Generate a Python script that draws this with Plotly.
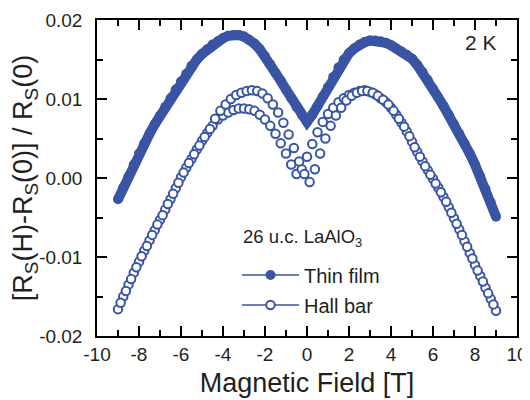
import plotly.graph_objects as go

BLUE = '#3A54A5'
INK = '#231F20'
FONT = 'Liberation Sans, Arial, Helvetica, sans-serif'

# Thin film (filled circles)
film_field = [-9.00, -8.75, -8.50, -8.25, -8.00, -7.75, -7.50, -7.25, -7.00, -6.75,
              -6.50, -6.25, -6.00, -5.75, -5.50, -5.25, -5.00, -4.75, -4.50, -4.25,
              -4.00, -3.75, -3.50, -3.25, -3.00, -2.75, -2.50, -2.25, -2.00, -1.75,
              -1.50, -1.25, -1.00, -0.75, -0.50, -0.25, 0.00, 0.25, 0.50, 0.75,
              1.00, 1.25, 1.50, 1.75, 2.00, 2.25, 2.50, 2.75, 3.00, 3.25,
              3.50, 3.75, 4.00, 4.25, 4.50, 4.75, 5.00, 5.25, 5.50, 5.75,
              6.00, 6.25, 6.50, 6.75, 7.00, 7.25, 7.50, 7.75, 8.00, 8.25,
              8.50, 8.75, 9.00]
film_ratio = [-0.0027, -0.0012, 0.0002, 0.0017, 0.0031, 0.0044, 0.0056, 0.0068, 0.0079, 0.0090,
              0.0101, 0.0112, 0.0122, 0.0132, 0.0142, 0.0150, 0.0157, 0.0163, 0.0169, 0.0173,
              0.0177, 0.0180, 0.0181, 0.0181, 0.0179, 0.0175, 0.0170, 0.0163, 0.0154, 0.0144,
              0.0133, 0.0123, 0.0112, 0.0101, 0.0090, 0.0080, 0.0071, 0.0080, 0.0091, 0.0103,
              0.0115, 0.0128, 0.0140, 0.0150, 0.0158, 0.0164, 0.0169, 0.0172, 0.0174, 0.0174,
              0.0173, 0.0171, 0.0168, 0.0164, 0.0160, 0.0156, 0.0151, 0.0143, 0.0134, 0.0124,
              0.0113, 0.0102, 0.0091, 0.0080, 0.0068, 0.0056, 0.0044, 0.0031, 0.0017, 0.0002,
              -0.0014, -0.0031, -0.0049]

# Hall bar, sweep branch 1 (open circles)
hall_a_field = [-9.00, -8.75, -8.50, -8.25, -8.00, -7.75, -7.50, -7.25, -7.00, -6.75,
                -6.50, -6.25, -6.00, -5.75, -5.50, -5.25, -5.00, -4.75, -4.50, -4.25,
                -4.00, -3.75, -3.50, -3.25, -3.00, -2.75, -2.50, -2.25, -2.00, -1.75,
                -1.50, -1.25, -1.00, -0.75, -0.50, -0.25, 0.00, 0.25, 0.50, 0.75,
                1.00, 1.25, 1.50, 1.75, 2.00, 2.25, 2.50, 2.75, 3.00, 3.25,
                3.50, 3.75, 4.00, 4.25, 4.50, 4.75, 5.00, 5.25, 5.50, 5.75,
                6.00, 6.25, 6.50, 6.75, 7.00, 7.25, 7.50, 7.75, 8.00, 8.25,
                8.50, 8.75, 9.00]
hall_a_ratio = [-0.0166, -0.0150, -0.0135, -0.0120, -0.0106, -0.0092, -0.0079, -0.0066, -0.0053, -0.0040,
                -0.0027, -0.0013, 0.0001, 0.0013, 0.0024, 0.0036, 0.0047, 0.0057, 0.0066, 0.0074,
                0.0079, 0.0083, 0.0086, 0.0088, 0.0088, 0.0087, 0.0085, 0.0080, 0.0074, 0.0066,
                0.0056, 0.0044, 0.0031, 0.0017, 0.0005, 0.0011, 0.0027, 0.0043, 0.0058, 0.0071,
                0.0081, 0.0089, 0.0096, 0.0101, 0.0105, 0.0108, 0.0110, 0.0111, 0.0109, 0.0106,
                0.0101, 0.0096, 0.0089, 0.0080, 0.0070, 0.0059, 0.0046, 0.0033, 0.0021, 0.0010,
                -0.0001, -0.0012, -0.0024, -0.0037, -0.0051, -0.0065, -0.0080, -0.0095, -0.0110, -0.0124,
                -0.0139, -0.0153, -0.0168]

# Hall bar, sweep branch 2 (open circles)
hall_b_field = [-8.875, -8.625, -8.375, -8.125, -7.875, -7.625, -7.375, -7.125, -6.875, -6.625,
                -6.375, -6.125, -5.875, -5.625, -5.375, -5.125, -4.875, -4.625, -4.375, -4.125,
                -3.875, -3.625, -3.375, -3.125, -2.875, -2.625, -2.375, -2.125, -1.875, -1.625,
                -1.375, -1.125, -0.875, -0.625, -0.375, -0.125, 0.125, 0.375, 0.625, 0.875,
                1.125, 1.375, 1.625, 1.875, 2.125, 2.375, 2.625, 2.875, 3.125, 3.375,
                3.625, 3.875, 4.125, 4.375, 4.625, 4.875, 5.125, 5.375, 5.625, 5.875,
                6.125, 6.375, 6.625, 6.875, 7.125, 7.375, 7.625, 7.875, 8.125, 8.375,
                8.625, 8.875]
hall_b_ratio = [-0.0158, -0.0143, -0.0128, -0.0113, -0.0099, -0.0086, -0.0072, -0.0059, -0.0047, -0.0033,
                -0.0020, -0.0006, 0.0007, 0.0019, 0.0030, 0.0041, 0.0052, 0.0062, 0.0075, 0.0085,
                0.0093, 0.0100, 0.0105, 0.0108, 0.0110, 0.0111, 0.0110, 0.0107, 0.0101, 0.0093,
                0.0083, 0.0070, 0.0055, 0.0038, 0.0021, 0.0005, -0.0005, 0.0011, 0.0031, 0.0050,
                0.0066, 0.0079, 0.0089, 0.0098, 0.0104, 0.0108, 0.0110, 0.0110, 0.0108, 0.0104,
                0.0099, 0.0093, 0.0085, 0.0075, 0.0065, 0.0053, 0.0039, 0.0027, 0.0015, 0.0004,
                -0.0007, -0.0018, -0.0030, -0.0044, -0.0058, -0.0072, -0.0087, -0.0102, -0.0117, -0.0131,
                -0.0146, -0.0160]

x_tick_vals = [-10, -8, -6, -4, -2, 0, 2, 4, 6, 8, 10]
x_tick_labels = ['-10', '-8', '-6', '-4', '-2', '0', '2', '4', '6', '8', '10']
y_tick_vals = [-0.02, -0.01, 0.0, 0.01, 0.02]
y_tick_labels = ['-0.02', '-0.01', '0.00', '0.01', '0.02']

legend_names = ['Thin film', 'Hall bar']
legend_title = '26 u.c. LaAlO<sub>3</sub>'
temperature_label = '2 K'

fig = go.Figure()

fig.add_trace(go.Scatter(
    x=film_field, y=film_ratio, mode='lines+markers', showlegend=False,
    line=dict(color=BLUE, width=10),
    marker=dict(symbol='circle', size=10, color=BLUE, line=dict(width=0)),
))
for fx, fy in [(hall_a_field, hall_a_ratio), (hall_b_field, hall_b_ratio)]:
    fig.add_trace(go.Scatter(
        x=fx, y=fy, mode='markers', showlegend=False,
        marker=dict(symbol='circle', size=8.5, color='white', line=dict(width=2, color=BLUE)),
    ))

# legend entries
fig.add_trace(go.Scatter(
    x=[None], y=[None], mode='lines+markers', name=legend_names[0], legendgroup='a',
    line=dict(color=BLUE, width=1.5),
    marker=dict(symbol='circle', size=10, color=BLUE, line=dict(width=0)),
))
fig.add_trace(go.Scatter(
    x=[None], y=[None], mode='lines+markers', name=legend_names[1], legendgroup='b',
    line=dict(color=BLUE, width=1.5),
    marker=dict(symbol='circle', size=8.5, color='white', line=dict(width=2, color=BLUE)),
))

fig.add_annotation(
    x=9.12, y=0.01715, xref='x', yref='y', text=temperature_label, showarrow=False,
    xanchor='right', yanchor='middle', font=dict(family=FONT, size=21, color=INK),
)
fig.add_annotation(
    x=-3.15, y=-0.0076, xref='x', yref='y', text=legend_title, showarrow=False,
    xanchor='left', yanchor='middle', font=dict(family=FONT, size=18.5, color=INK),
)

axis_common = dict(
    showline=True, linecolor='black', linewidth=1.5, mirror='ticks',
    ticks='inside', ticklen=10, tickwidth=1.5, tickcolor='black',
    showgrid=False, zeroline=False, tickmode='array',
    tickfont=dict(family=FONT, size=19, color=INK),
)

fig.update_xaxes(
    **axis_common, range=[-10, 10], tickvals=x_tick_vals, ticktext=x_tick_labels,
    minor=dict(ticks='inside', ticklen=6, tickwidth=1.5, tickcolor='black', dtick=1, tick0=0, showgrid=False),
    ticklabelstandoff=0,
    title=dict(text='Magnetic Field [T]', font=dict(family=FONT, size=27, color=INK), standoff=10),
)
fig.update_yaxes(
    **axis_common, range=[-0.02, 0.02], tickvals=y_tick_vals, ticktext=y_tick_labels,
    minor=dict(ticks='inside', ticklen=6, tickwidth=1.5, tickcolor='black', dtick=0.005, tick0=0, showgrid=False),
    ticklabelstandoff=9,
    title=dict(text='[R<sub>S</sub>(H)-R<sub>S</sub>(0)] / R<sub>S</sub>(0)',
               font=dict(family=FONT, size=27, color=INK), standoff=0),
)

# The page body has an 8 px margin, so the figure is sized and offset to match.
fig.update_layout(
    width=522, height=392,
    margin=dict(l=89, r=13, t=12, b=64, autoexpand=False),
    paper_bgcolor='white', plot_bgcolor='white',
    showlegend=True,
    legend=dict(
        x=0.3333, y=0.255, xanchor='left', yanchor='top',
        bgcolor='rgba(0,0,0,0)', borderwidth=0,
        font=dict(family=FONT, size=20, color=INK),
        itemwidth=57, tracegroupgap=1,
    ),
)

fig.write_html('out.html')
